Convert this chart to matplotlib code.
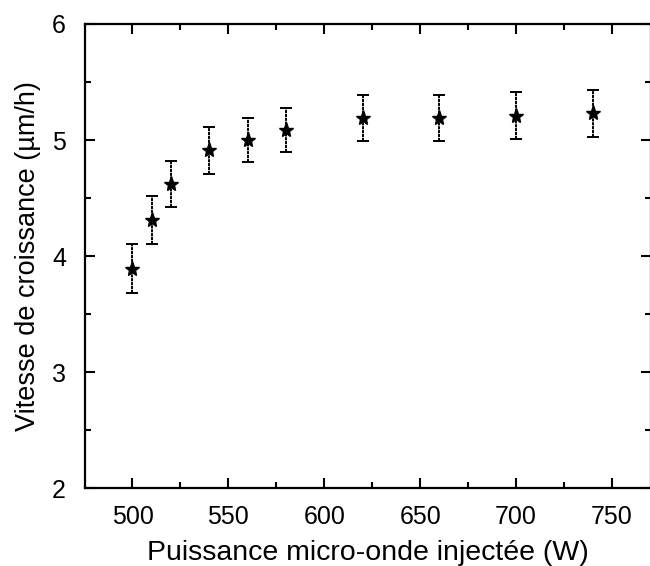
import matplotlib
matplotlib.use("Agg")
import matplotlib.pyplot as plt
from matplotlib.ticker import MultipleLocator

plt.rcParams['font.family'] = ['Liberation Sans', 'DejaVu Sans']

puissance = [500, 510, 520, 540, 560, 580, 620, 660, 700, 740]
vitesse = [3.89, 4.31, 4.62, 4.91, 5.00, 5.09, 5.19, 5.19, 5.21, 5.23]
erreur = [0.21, 0.21, 0.20, 0.20, 0.19, 0.19, 0.20, 0.20, 0.20, 0.20]

fig = plt.figure(figsize=(6.5, 5.66), dpi=100)
ax = fig.add_axes([0.1315, 0.1378, 0.87, 0.8198])

_, caps, bars = ax.errorbar(puissance, vitesse, yerr=erreur, fmt='*',
                            color='black', markersize=11, ecolor='black',
                            elinewidth=1.4, capsize=4, capthick=1.4)
# scanned look: bars drawn densely dotted
for b in bars:
    b.set_linestyle((0, (1.6, 0.4)))

ax.set_xlim(475.5, 770.3)
ax.set_ylim(2, 6)
ax.xaxis.set_major_locator(MultipleLocator(50))
ax.xaxis.set_minor_locator(MultipleLocator(25))
ax.yaxis.set_major_locator(MultipleLocator(1))
ax.yaxis.set_minor_locator(MultipleLocator(0.5))
ax.tick_params(which='both', direction='in', top=True, right=True,
               labelsize=18, width=1.5)
ax.tick_params(which='major', length=7)
ax.tick_params(which='minor', length=4)
ax.tick_params(axis='x', which='both', pad=12)
ax.tick_params(axis='y', which='both', pad=14)
for s in ax.spines.values():
    s.set_linewidth(1.6)

ax.set_xlabel("Puissance micro-onde injectée (W)", fontsize=20.5, labelpad=8)
ax.set_ylabel("Vitesse de croissance (µm/h)", fontsize=19.5, labelpad=8)

fig.savefig("out.png", dpi=100)
